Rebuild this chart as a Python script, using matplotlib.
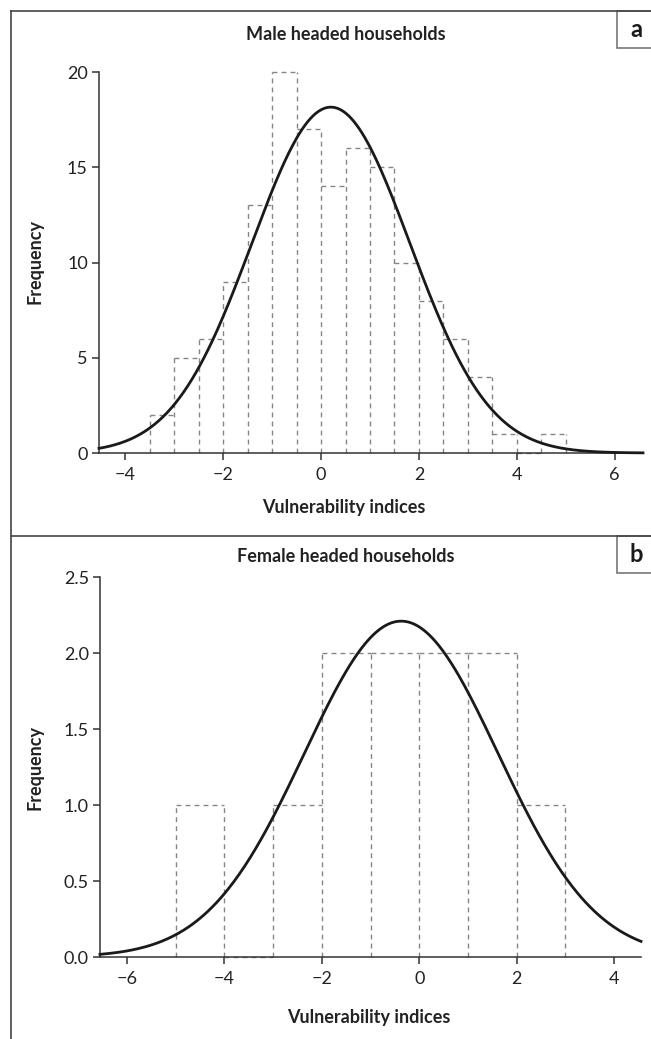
import numpy as np
import matplotlib.pyplot as plt
from matplotlib.patches import Rectangle
from matplotlib.lines import Line2D

plt.rcParams['font.family'] = ['Lato', 'DejaVu Sans']

# male headed households: histogram (bin width 0.5) + fitted normal curve
male_edges = [-3.5, -3.0, -2.5, -2.0, -1.5, -1.0, -0.5, 0.0, 0.5, 1.0, 1.5,
              2.0, 2.5, 3.0, 3.5, 4.0, 4.5]
male_counts = [2, 5, 6, 9, 13, 20, 17, 14, 16, 15, 10, 8, 6, 4, 1, 0, 1]
male_width = 0.5
male_mean = 0.2
male_sd = 1.615

# female headed households: histogram (bin width 1) + fitted normal curve
female_edges = [-5, -4, -3, -2, -1, 0, 1, 2]
female_counts = [1, 0, 1, 2, 2, 2, 2, 1]
female_width = 1.0
female_mean = -0.37
female_sd = 1.986

male_xticks = [-4, -2, 0, 2, 4, 6]
male_yticks = [0, 5, 10, 15, 20]
female_xticks = [-6, -4, -2, 0, 2, 4]
female_yticks = [0, 0.5, 1.0, 1.5, 2.0, 2.5]

W, H = 651, 1039
fig = plt.figure(figsize=(W / 100, H / 100), dpi=100)

def px_axes(left, top, right, bottom):
    return fig.add_axes([left / W, 1 - bottom / H, (right - left) / W, (bottom - top) / H])

def normal_curve(mean, sd, n, width, xs):
    return n * width / (sd * np.sqrt(2 * np.pi)) * np.exp(-(xs - mean) ** 2 / (2 * sd ** 2))

def draw_panel(ax, edges, counts, width, mean, sd, xlim, ylim, xticks, yticks, fmt):
    # dashed outline of the histogram, every edge drawn once from the bottom up
    lefts = np.array(edges, dtype=float)
    rights = lefts + width
    all_x = list(lefts) + [rights[-1]]
    padded = [0] + list(counts) + [0]
    heights = [max(padded[i], padded[i + 1]) for i in range(len(all_x))]
    dash = dict(colors='#858585', linewidth=1.0, linestyles=[(0, (3.5, 3))],
                zorder=1, clip_on=False)
    ax.vlines(all_x, 0, heights, **dash)
    ax.hlines(counts, lefts, rights, **dash)

    xs = np.linspace(xlim[0], xlim[1], 400)
    ax.plot(xs, normal_curve(mean, sd, sum(counts), width, xs),
            color='#1a1a1a', linewidth=2.0, zorder=3, clip_on=False)
    ax.set_xlim(xlim)
    ax.set_ylim(ylim)
    for s in ['top', 'right']:
        ax.spines[s].set_visible(False)
    for s in ['left', 'bottom']:
        ax.spines[s].set_color('#333333')
        ax.spines[s].set_linewidth(1.1)
        ax.spines[s].set_zorder(2)
    ax.spines['left'].set_bounds(yticks[0], yticks[-1])
    ax.set_xticks(xticks)
    ax.set_yticks(yticks)
    ax.set_yticklabels([fmt.format(v) for v in yticks])
    ax.set_xticklabels([str(v).replace('-', '\u2212') for v in xticks])
    ax.tick_params(axis='both', direction='out', length=5, width=1.1,
                   color='#333333', labelsize=13, labelcolor='#222222')
    ax.tick_params(axis='x', pad=5)
    ax.tick_params(axis='y', pad=3)
    ax.patch.set_visible(False)

# top panel
ax1 = px_axes(99, 72, 643, 453)
draw_panel(ax1, male_edges, male_counts, male_width, male_mean, male_sd,
           (-4.54, 6.58), (0, 20), male_xticks, male_yticks, '{:.0f}')

# bottom panel
ax2 = px_axes(100, 577, 641, 957)
draw_panel(ax2, female_edges, female_counts, female_width, female_mean, female_sd,
           (-6.55, 4.55), (0, 2.5), female_xticks, female_yticks, '{:.1f}')

def ftext(x, y, s, **kw):
    fig.text(x / W, 1 - y / H, s, ha='center', va='center', **kw)

label_kw = dict(fontsize=13, fontweight='bold', color='#222222')
ftext(346, 35, 'Male headed households', **label_kw)
ftext(344, 508, 'Vulnerability indices', **label_kw)
ftext(35, 262, 'Frequency', rotation=90, **label_kw)

ftext(346, 557, 'Female headed households', **label_kw)
ftext(369, 1018, 'Vulnerability indices', **label_kw)
ftext(35, 767, 'Frequency', rotation=90, **label_kw)

# frame lines and panel letters
frame_kw = dict(color='#444444', linewidth=1.2, transform=fig.transFigure)
fig.add_artist(Line2D([11 / W, 11 / W], [1 - 11 / H, 0], **frame_kw))
fig.add_artist(Line2D([11 / W, 1], [1 - 11 / H, 1 - 11 / H], **frame_kw))
fig.add_artist(Line2D([11 / W, 1], [1 - 536 / H, 1 - 536 / H], **frame_kw))

for top, bottom, letter in [(11, 48, 'a'), (536, 573, 'b')]:
    fig.add_artist(Rectangle((617 / W, 1 - bottom / H), 40 / W, (bottom - top) / H,
                             transform=fig.transFigure, facecolor='white',
                             edgecolor='#777777', linewidth=1.2))
    ftext(636, (top + bottom) / 2, letter, fontsize=17, fontweight='bold', color='#1a1a1a')

fig.savefig('out.png', dpi=100)
